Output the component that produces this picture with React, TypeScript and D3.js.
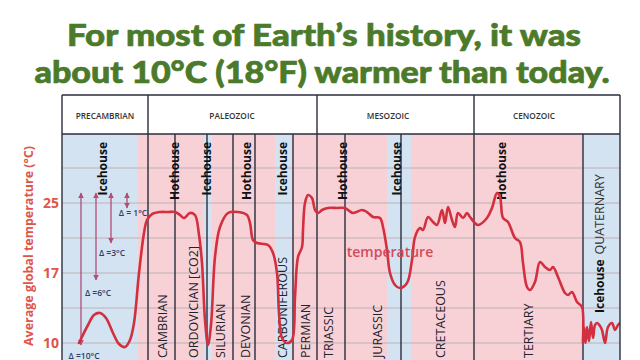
import React from 'react';
import * as d3 from 'd3';

// ---------- DATA ----------
// timeline position (relative units along the non-linear geologic axis, 0..558)
const curvePos = [17, 26, 32, 38, 44, 51, 57, 63, 68, 72, 77, 82, 85, 90, 98, 106, 113, 118, 122, 128, 133, 137, 140, 143, 146, 149, 153, 158, 166, 176, 185, 188, 191, 195, 206, 211, 215, 217, 220, 225, 230, 233, 236, 240, 241, 243, 246, 250, 253, 256, 260, 266, 275, 283, 291, 300, 305, 311, 318, 321, 325, 328, 333, 338, 345, 350, 353, 358, 361, 366, 371, 375, 380, 383, 386, 390, 393, 396, 401, 405, 408, 416, 425, 430, 435, 438, 441, 446, 453, 458, 461, 465, 468, 473, 478, 483, 488, 491, 496, 503, 506, 510, 515, 520, 521, 522, 523.5, 525, 527, 529, 531, 533, 535, 538, 540, 543, 546, 550, 553, 556, 558];
// average global temperature (°C)
const curveTemp = [10.0, 11.8, 12.8, 13.0, 12.5, 11.0, 9.9, 9.6, 10.3, 12.0, 17.0, 21.57, 23.06, 23.74, 23.97, 23.97, 23.97, 23.63, 23.29, 23.86, 23.63, 21.34, 18.14, 12.3, 9.8, 11.8, 18.83, 22.26, 23.86, 23.97, 23.63, 22.71, 20.77, 20.43, 20.2, 19.29, 17.0, 13.0, 10.5, 10.0, 10.3, 14.6, 18.83, 19.97, 21.91, 25.0, 25.91, 25.57, 24.2, 23.86, 24.2, 24.43, 24.43, 24.43, 23.86, 24.2, 23.97, 23.4, 23.29, 22.26, 19.63, 17.0, 15.8, 15.5, 16.0, 18.49, 21.11, 22.14, 21.91, 23.4, 22.83, 22.49, 24.2, 22.71, 24.54, 23.06, 22.26, 23.86, 23.29, 23.86, 23.4, 22.49, 23.29, 24.43, 26.14, 25.69, 23.29, 22.83, 21.0, 20.54, 18.14, 15.6, 15.3, 16.1, 18.26, 17.69, 17.34, 17.69, 16.6, 15.0, 14.8, 15.1, 14.1, 13.6, 10.0, 11.6, 10.0, 11.6, 10.2, 12.1, 10.5, 11.8, 12.0, 11.7, 11.3, 10.0, 11.6, 12.0, 11.3, 11.8, 12.0];

const gridTemps = [29, 25, 21, 17, 13.5, 10, 6.5];
const tickTemps = [25, 17, 10];

const eraNames = ['PRECAMBRIAN', 'PALEOZOIC', 'MESOZOIC', 'CENOZOIC'];
const eraBounds = [0, 86, 255, 412, 558];
const eraLabelPos = [43, 170, 326, 472];

const periodLines = [86, 113, 145, 171, 193, 231, 255, 283, 339, 412, 521];
const icehouseStart = [0, 142, 213, 325, 521];
const icehouseEnd = [76, 150, 230, 349, 558];

const regimeNames = ['Icehouse', 'Hothouse', 'Icehouse', 'Hothouse', 'Icehouse', 'Hothouse', 'Icehouse', 'Hothouse'];
const regimePos = [41, 113, 145, 185, 221, 281, 335, 440];
const quaternaryPos = 538;

const periodNames = ['CAMBRIAN', 'ORDOVICIAN [CO2]', 'SILURIAN', 'DEVONIAN', 'CARBONIFEROUS', 'PERMIAN', 'TRIASSIC', 'JURASSIC', 'CRETACEOUS', 'TERTIARY'];
const periodPos = [100, 131, 158, 183, 220, 243, 266, 315, 378, 466];

const deltaLabels = ['Δ =10°C', 'Δ =6°C', 'Δ =3°C', 'Δ = 1°C'];
const arrowPos = [19, 34, 49, 65];
const arrowTop = 26.14;
const arrowBottom = [9.8, 16.3, 20.43, 24.43];
const deltaLabelPos = [22, 36, 50, 71];
const deltaLabelTemp = [8.4, 14.7, 18.9, 23.5];

const seriesLabel = 'temperature';
const seriesLabelPos = 328;
const seriesLabelTemp = 18.8;

// ---------- LAYOUT ----------
const W = 640, H = 360;
const left = 62, right = 620;
const headerTop = 95, plotTop = 134;

export default function App() {
  const x = d3.scaleLinear().domain([0, 558]).range([left, right]);
  const y = d3.scaleLinear().domain([10, 17, 25]).range([343, 273, 203]);

  const pts = curvePos.map((p, i) => [p, curveTemp[i]] as [number, number]);
  const line = d3.line<[number, number]>()
    .x(d => x(d[0]))
    .y(d => y(d[1]))
    .curve(d3.curveCatmullRom.alpha(0.5));

  const pink = '#f8d1d6';
  const blue = '#d4e3f1';
  const vline = '#2a2d3c';
  const grid = '#bdb0b6';
  const axisRed = '#df5549';
  const arrowCol = '#b04d78';
  const navy = '#2d3d6b';
  const green = '#4b7a2a';

  return (
    <svg width={W} height={H} style={{ position: 'absolute', left: 0, top: 0, background: '#fff' }}>
      <defs>
        <clipPath id="plotClip">
          <rect x={left} y={plotTop} width={right - left} height={H - plotTop} />
        </clipPath>
        <marker id="ah" viewBox="0 0 10 10" refX="9" refY="5" markerWidth="6" markerHeight="6" orient="auto-start-reverse" markerUnits="userSpaceOnUse">
          <path d="M0,0 L10,5 L0,10 z" fill={arrowCol} />
        </marker>
      </defs>

      {/* Title */}
      <g fill={green} stroke={green} strokeWidth={0.7} fontFamily="Lato, 'Open Sans', sans-serif" fontWeight={900} fontSize={31} textAnchor="middle">
        <text x={324} y={46} textLength={514} lengthAdjust="spacingAndGlyphs">For most of Earth’s history, it was</text>
        <text x={322} y={83} textLength={575} lengthAdjust="spacingAndGlyphs">about 10°C (18°F) warmer than today.</text>
      </g>

      {/* Header */}
      <rect x={left} y={headerTop} width={right - left} height={plotTop - headerTop} fill="#fff" />
      <g fontFamily="'Open Sans', sans-serif" fontWeight={600} fontSize={8.3} fill="#333" textAnchor="middle">
        {eraNames.map((n, i) => (
          <text key={n} x={x(eraLabelPos[i])} y={119}>{n}</text>
        ))}
      </g>
      <line x1={left} x2={right} y1={headerTop} y2={headerTop} stroke={vline} strokeWidth={1.4} />
      {eraBounds.map((b, i) => (
        <line key={i} x1={x(b)} x2={x(b)} y1={headerTop} y2={plotTop} stroke={vline} strokeWidth={1.4} />
      ))}

      {/* Plot */}
      <g clipPath="url(#plotClip)">
        <rect x={left} y={plotTop} width={right - left} height={H - plotTop} fill={pink} />
        {icehouseStart.map((s, i) => (
          <rect key={i} x={x(s)} y={plotTop} width={x(icehouseEnd[i]) - x(s)} height={H - plotTop} fill={blue} />
        ))}
        {gridTemps.map((t, i) => (
          <line key={i} x1={left} x2={right} y1={y(t)} y2={y(t)} stroke={grid} strokeWidth={1} />
        ))}
        {periodLines.map((p, i) => (
          <line key={i} x1={x(p)} x2={x(p)} y1={plotTop} y2={H} stroke={vline} strokeWidth={1.4} />
        ))}

        {/* regime labels */}
        <g fontFamily="'Open Sans', sans-serif" fontWeight={700} fontSize={12} fill="#111">
          {regimeNames.map((n, i) => (
            <text key={i} transform={`translate(${x(regimePos[i])},142) rotate(-90)`} textAnchor="end" dy="0.36em">{n}</text>
          ))}
          <text transform={`translate(${x(quaternaryPos)},313) rotate(-90)`} textAnchor="start" dy="0.36em">
            Icehouse<tspan fontWeight={400} fill="#333" fontSize={12.5} dx={5}>QUATERNARY</tspan>
          </text>
        </g>

        {/* period labels */}
        <g fontFamily="'Open Sans', sans-serif" fontWeight={400} fontSize={12.5} fill="#23232e">
          {periodNames.map((n, i) => (
            <text key={n} transform={`translate(${x(periodPos[i])},358) rotate(-90)`} textAnchor="start" dy="0.36em">{n}</text>
          ))}
        </g>

        {/* delta arrows */}
        {arrowPos.map((p, i) => (
          <line key={i} x1={x(p)} x2={x(p)} y1={y(arrowTop)} y2={y(arrowBottom[i])} stroke={arrowCol} strokeWidth={1.3}
            markerStart="url(#ah)" markerEnd="url(#ah)" />
        ))}
        <g fontFamily="'Open Sans', sans-serif" fontWeight={600} fontSize={8.5} fill={navy} textAnchor="middle">
          {deltaLabels.map((l, i) => (
            <text key={i} x={x(deltaLabelPos[i])} y={y(deltaLabelTemp[i])}>{l}</text>
          ))}
        </g>

        {/* curve */}
        <path d={line(pts) || ''} fill="none" stroke="#d22f3f" strokeWidth={2.6} strokeLinejoin="round" strokeLinecap="round" />
        <text x={x(seriesLabelPos)} y={y(seriesLabelTemp)} textAnchor="middle" fontFamily="'Open Sans', sans-serif" fontWeight={600} fontSize={14} fill="#d44a5c">{seriesLabel}</text>
      </g>

      {/* borders */}
      <line x1={left} x2={right} y1={plotTop} y2={plotTop} stroke={vline} strokeWidth={1.4} />
      <line x1={left} x2={left} y1={plotTop} y2={H} stroke={vline} strokeWidth={1.4} />
      <line x1={right} x2={right} y1={plotTop} y2={H} stroke={vline} strokeWidth={1.4} />

      {/* y axis */}
      <g fontFamily="'Open Sans', sans-serif" fontWeight={700} fontSize={14} fill={axisRed} textAnchor="end">
        {tickTemps.map(t => (
          <text key={t} x={59} y={y(t)} dy="0.36em">{t}</text>
        ))}
      </g>
      <text transform="translate(33,246) rotate(-90)" textAnchor="middle" fontFamily="'Open Sans', sans-serif" fontWeight={700} fontSize={13} fill={axisRed} textLength={200} lengthAdjust="spacingAndGlyphs">
        Average global temperature (°C)
      </text>
    </svg>
  );
}
